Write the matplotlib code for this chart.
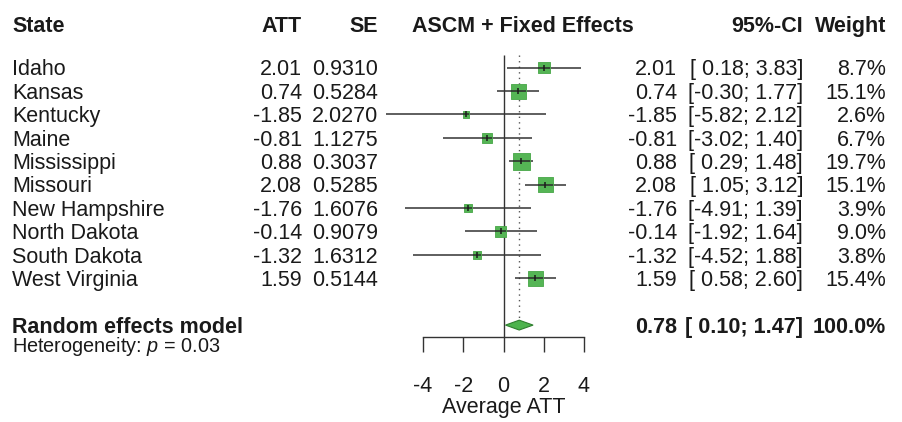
import matplotlib
matplotlib.use("Agg")
import matplotlib.pyplot as plt
import matplotlib.transforms as mtransforms
import numpy as np

plt.rcParams['font.family'] = ['Liberation Sans', 'DejaVu Sans']
plt.rcParams['mathtext.fontset'] = 'custom'
plt.rcParams['mathtext.rm'] = 'Liberation Sans'
plt.rcParams['mathtext.it'] = 'Liberation Sans:italic'

# study rows
states = ["Idaho", "Kansas", "Kentucky", "Maine", "Mississippi", "Missouri",
          "New Hampshire", "North Dakota", "South Dakota", "West Virginia"]
att = [2.01, 0.74, -1.85, -0.81, 0.88, 2.08, -1.76, -0.14, -1.32, 1.59]
se = [0.9310, 0.5284, 2.0270, 1.1275, 0.3037, 0.5285, 1.6076, 0.9079, 1.6312, 0.5144]
ci_lo = [0.18, -0.30, -5.82, -3.02, 0.29, 1.05, -4.91, -1.92, -4.52, 0.58]
ci_hi = [3.83, 1.77, 2.12, 1.40, 1.48, 3.12, 1.39, 1.64, 1.88, 2.60]
weight = [8.7, 15.1, 2.6, 6.7, 19.7, 15.1, 3.9, 9.0, 3.8, 15.4]

# pooled estimate
re_est = 0.78
re_lo = 0.10
re_hi = 1.47
re_weight = 100.0
het_p = 0.03

xticks = [-4, -2, 0, 2, 4]

W, H = 902, 422
fig = plt.figure(figsize=(W / 100, H / 100), dpi=100)

# rows: row i sits at 67.7 + 23.4*i px from the top
row0, rowh = 67.7, 23.4
def px2row(p):
    return (p - row0) / rowh

ax_left, ax_right = 423, 584
ax_bot = 337
ax = fig.add_axes([ax_left / W, (H - ax_bot) / H, (ax_right - ax_left) / W, ax_bot / H])
ax.set_xlim(-4, 4)
ax.set_ylim(px2row(ax_bot), px2row(0))
ax.patch.set_visible(False)
for s in ["top", "left", "right"]:
    ax.spines[s].set_visible(False)
ax.spines["bottom"].set_color("#333333")
ax.spines["bottom"].set_linewidth(1.0)
ax.set_yticks([])
ax.set_xticks(xticks)
ax.set_xticklabels([str(t) for t in xticks])
ax.tick_params(axis="x", direction="out", length=10.8, width=1.0, color="#333333",
               pad=17, labelsize=15.5, labelcolor="#1a1a1a")
ax.set_xlabel("Average ATT", fontsize=15.5, color="#1a1a1a", labelpad=0)

rows = np.arange(len(states))
re_row = 11

# reference lines
ax.vlines(0, px2row(55), px2row(ax_bot), color="#333333", lw=1.0, zorder=1, clip_on=False)
ax.vlines(re_est, px2row(55), re_row - 0.21, color="#555555", lw=1.0,
          linestyles=(0, (1, 3)), zorder=1, clip_on=False)

# confidence intervals
ax.hlines(rows, ci_lo, ci_hi, color="#333333", lw=1.1, zorder=2, clip_on=False)

# squares, area proportional to weight
side_px = 17 / np.sqrt(19.7) * np.sqrt(np.array(weight))
ax.scatter(att, rows, marker="s", s=(side_px * 0.72) ** 2, color="#55b555",
           edgecolor="#46a646", linewidth=0.6, zorder=3, clip_on=False)
ax.hlines(rows, np.array(att) - side_px / 2 / 20.1, np.array(att) + side_px / 2 / 20.1,
          color="#2a2a2a", lw=1.1, zorder=4, clip_on=False)
ax.scatter(att, rows, marker="|", s=25, color="#1a1a1a", linewidth=1.1, zorder=5, clip_on=False)

# pooled diamond
ax.fill([re_lo, re_est, re_hi, re_est], [re_row, re_row - 0.21, re_row, re_row + 0.21],
        facecolor="#4db34d", edgecolor="#2f7f2f", lw=0.8, zorder=3, clip_on=False)

# text columns
trans = mtransforms.blended_transform_factory(fig.transFigure, ax.transData)
fs = 15.5
off = 0.33
col = "#1a1a1a"

def put(xpx, row, s, ha="right", bold=False, size=fs):
    fig.text(xpx / W, row + off, s, transform=trans, ha=ha, va="baseline",
             fontsize=size, fontweight="bold" if bold else "normal", color=col)

hdr = px2row(24)
put(12, hdr, "State", ha="left", bold=True)
put(302, hdr, "ATT", bold=True)
put(378, hdr, "SE", bold=True)
put(412, hdr, "ASCM + Fixed Effects", ha="left", bold=True)
put(803, hdr, "95%-CI", bold=True)
put(886, hdr, "Weight", bold=True)

for i in rows:
    put(12, i, states[i], ha="left")
    put(302, i, f"{att[i]:.2f}")
    put(378, i, f"{se[i]:.4f}")
    put(677, i, f"{att[i]:.2f}")
    put(803, i, f"[{ci_lo[i]:5.2f}; {ci_hi[i]:.2f}]")
    put(886, i, f"{weight[i]:.1f}%")

put(12, re_row, "Random effects model", ha="left", bold=True)
put(677, re_row, f"{re_est:.2f}", bold=True)
put(803, re_row, f"[{re_lo:5.2f}; {re_hi:.2f}]", bold=True)
put(886, re_row, f"{re_weight:.1f}%", bold=True)
put(12, px2row(344), f"Heterogeneity: $p$ = {het_p:.2f}", ha="left", size=14.3)

fig.savefig("out.png", dpi=100)
